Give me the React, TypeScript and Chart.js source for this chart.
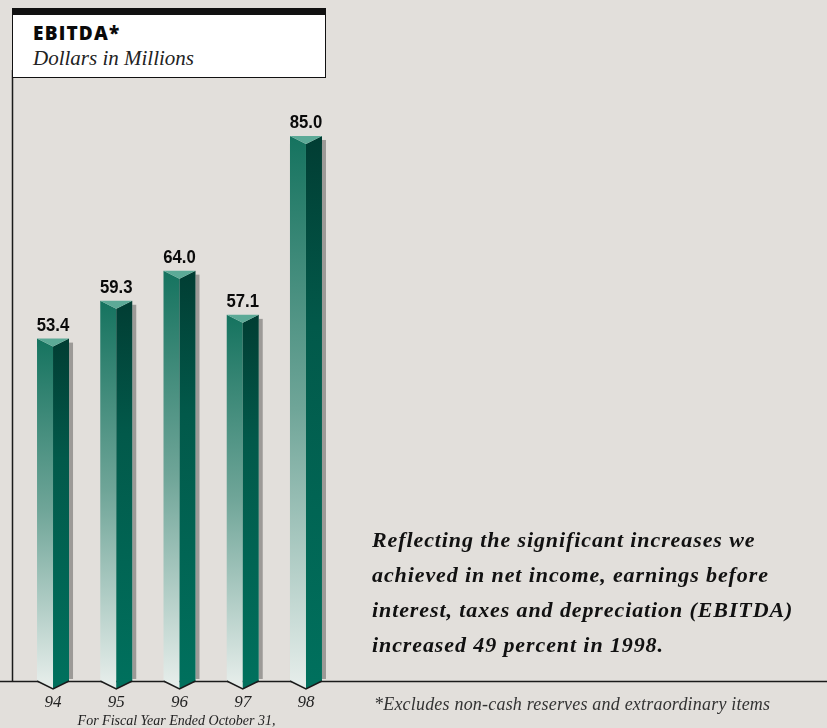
import React, { useEffect, useRef } from "react";
import { Chart, registerables } from "chart.js";
Chart.register(...registerables);

const categories = ["94", "95", "96", "97", "98"];
const ebitda = [53.4, 59.3, 64.0, 57.1, 85.0];
const valueLabels = ["53.4", "59.3", "64.0", "57.1", "85.0"];
const yMax = 100;

const W = 827;
const H = 728;
const BG = "#e2dfdb";
const SERIF = "'Liberation Serif', 'Times New Roman', serif";

const bar3d = {
  id: "bar3d",
  beforeDatasetsDraw(chart: any) {
    const ctx = chart.ctx;
    const base = chart.scales.y.getPixelForValue(0);
    ctx.save();
    ctx.strokeStyle = "#1a1a1a";
    ctx.lineWidth = 1.5;
    ctx.beginPath();
    ctx.moveTo(0, Math.round(base) + 0.5);
    ctx.lineTo(W, Math.round(base) + 0.5);
    ctx.stroke();
    ctx.beginPath();
    ctx.moveTo(12.5, 70);
    ctx.lineTo(12.5, Math.round(base) + 0.5);
    ctx.stroke();
    ctx.restore();
  },
  afterDatasetsDraw(chart: any) {
    const ctx = chart.ctx;
    const meta = chart.getDatasetMeta(0);
    const d = 8;
    ctx.save();
    meta.data.forEach((el: any, i: number) => {
      const { x, y, base, width } = el.getProps(["x", "y", "base", "width"], true);
      const l = x - width / 2;
      const r = x + width / 2;
      ctx.fillStyle = "#9c9a97";
      ctx.fillRect(r, y + 4, 4, base - y - 6);
      const gl = ctx.createLinearGradient(0, y, 0, base);
      gl.addColorStop(0, "#15735f");
      gl.addColorStop(0.5, "#6fa598");
      gl.addColorStop(1, "#e4ece9");
      ctx.fillStyle = gl;
      ctx.beginPath();
      ctx.moveTo(l, y);
      ctx.lineTo(x, y + d);
      ctx.lineTo(x, base + d);
      ctx.lineTo(l, base);
      ctx.closePath();
      ctx.fill();
      const gr = ctx.createLinearGradient(0, y, 0, base);
      gr.addColorStop(0, "#013d33");
      gr.addColorStop(0.35, "#02594a");
      gr.addColorStop(1, "#00705d");
      ctx.fillStyle = gr;
      ctx.beginPath();
      ctx.moveTo(x, y + d);
      ctx.lineTo(r, y);
      ctx.lineTo(r, base);
      ctx.lineTo(x, base + d);
      ctx.closePath();
      ctx.fill();
      ctx.fillStyle = "#5caa97";
      ctx.beginPath();
      ctx.moveTo(l, y);
      ctx.lineTo(r, y);
      ctx.lineTo(x, y + d);
      ctx.closePath();
      ctx.fill();
      ctx.strokeStyle = "#1a1a1a";
      ctx.lineWidth = 1.5;
      ctx.beginPath();
      ctx.moveTo(l, base);
      ctx.lineTo(x, base + d);
      ctx.lineTo(r, base);
      ctx.stroke();
      // value label (condensed)
      ctx.save();
      ctx.translate(x, y - 8);
      ctx.scale(0.88, 1);
      ctx.fillStyle = "#0a0a0a";
      ctx.font = "bold 19px 'Liberation Sans', Arial, sans-serif";
      ctx.textAlign = "center";
      ctx.textBaseline = "alphabetic";
      ctx.fillText(valueLabels[i], 0, 0);
      ctx.restore();
      // category label
      ctx.fillStyle = "#222";
      ctx.textAlign = "center";
      ctx.font = `italic 17px ${SERIF}`;
      ctx.fillText(categories[i], x, base + 26);
    });
    ctx.restore();
  },
};

export default function App() {
  const ref = useRef<HTMLCanvasElement>(null);
  useEffect(() => {
    document.body.style.margin = "0";
    const chart = new Chart(ref.current!, {
      type: "bar",
      data: {
        labels: categories,
        datasets: [
          {
            data: ebitda,
            backgroundColor: "rgba(0,0,0,0)",
            borderWidth: 0,
            categoryPercentage: 1,
            barPercentage: 0.506,
          },
        ],
      },
      options: {
        responsive: false,
        animation: false,
        devicePixelRatio: 1,
        layout: { padding: { left: 21.4, right: W - 337.6, top: 681 - yMax * 6.412, bottom: H - 681 } },
        plugins: { legend: { display: false }, tooltip: { enabled: false } },
        scales: {
          x: { display: false },
          y: { display: false, min: 0, max: yMax },
        },
      },
      plugins: [bar3d],
    });
    return () => chart.destroy();
  }, []);

  const abs = (s: React.CSSProperties): React.CSSProperties => ({ position: "absolute", margin: 0, whiteSpace: "nowrap", ...s });

  return (
    <div style={{ position: "relative", width: W, height: H, background: BG, overflow: "hidden" }}>
      <canvas ref={ref} width={W} height={H} style={{ position: "absolute", left: 0, top: 0, width: W, height: H }} />
      <div
        style={abs({
          left: 12,
          top: 8,
          width: 312,
          height: 62,
          background: "#fff",
          border: "1.5px solid #111",
          borderTop: "7px solid #111",
        })}
      />
      <div style={abs({ left: 33, top: 21, font: "800 19px 'Open Sans', sans-serif", color: "#0a0a0a", lineHeight: "24px", letterSpacing: "1.2px" })}>
        EBITDA*
      </div>
      <div style={abs({ left: 33, top: 45.5, font: `italic 21px ${SERIF}`, color: "#222", lineHeight: "24px" })}>
        Dollars in Millions
      </div>
      <div style={abs({ left: 372, top: 521.5, font: `bold italic 22px ${SERIF}`, color: "#111", lineHeight: "35px", letterSpacing: "0.9px" })}>
        Reflecting the significant increases we
        <br />
        achieved in net income, earnings before
        <br />
        interest, taxes and depreciation (EBITDA)
        <br />
        increased 49 percent in 1998.
      </div>
      <div style={abs({ left: 374, top: 694, font: `italic 18px ${SERIF}`, color: "#333", lineHeight: "20px", letterSpacing: "0.2px" })}>
        *Excludes non-cash reserves and extraordinary items
      </div>
      <div style={abs({ left: 75, top: 712, width: 203, textAlign: "center", font: `italic 14px ${SERIF}`, color: "#222", lineHeight: "17px" })}>
        For Fiscal Year Ended October 31,
      </div>
    </div>
  );
}
